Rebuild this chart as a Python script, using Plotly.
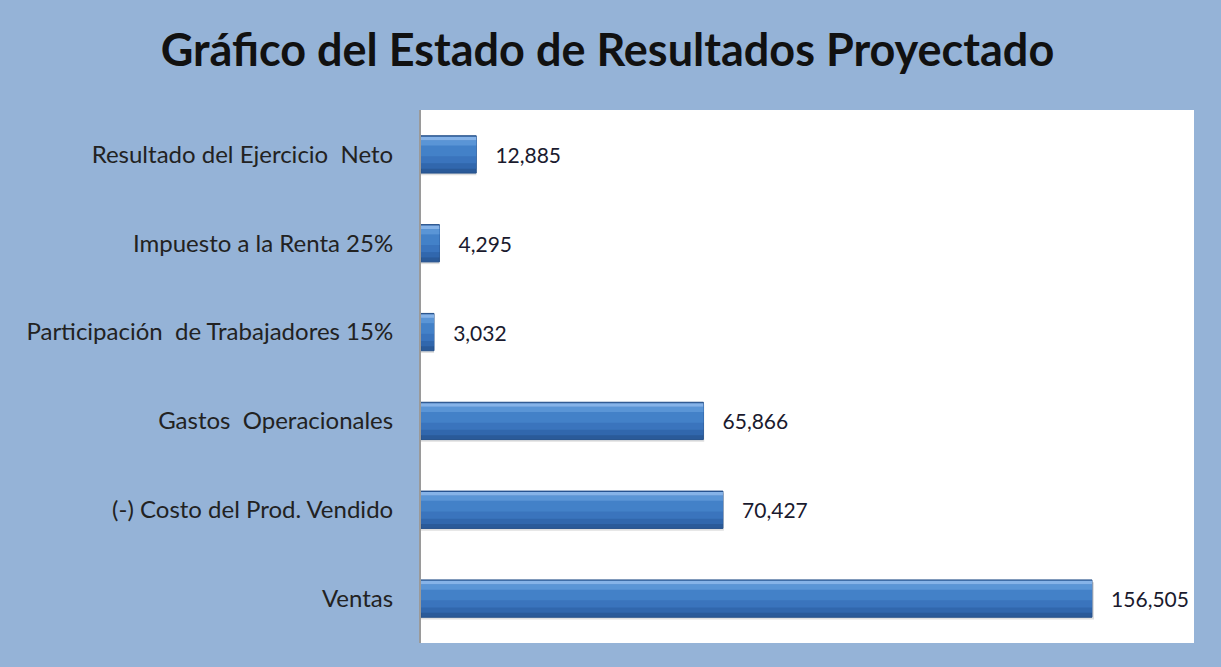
import plotly.graph_objects as go

categories = ["Ventas", "(-) Costo del Prod. Vendido", "Gastos  Operacionales",
              "Participación  de Trabajadores 15%", "Impuesto a la Renta 25%",
              "Resultado del Ejercicio  Neto"]
values = [156505, 70427, 65866, 3032, 4295, 12885]
labels = [f"{v:,}" for v in values]

BG = "#95B3D7"
FONT = "Lato, 'Open Sans', sans-serif"

# gradient bands (offset, width, colour) for a bevelled bar look
bands = [
    (-0.21, 0.42, "#2A5A99"),
    (-0.16, 0.35, "#3167AD"),
    (-0.10, 0.27, "#3A74BD"),
    (-0.02, 0.17, "#4381C8"),
    (0.10, 0.06, "#5A95D6"),
    (0.16, 0.04, "#86B3E8"),
]

fig = go.Figure()
# shadow
fig.add_trace(go.Bar(y=categories, x=[v * 1.003 for v in values], orientation="h",
                     width=0.42, offset=-0.235,
                     marker=dict(color="rgba(110,110,110,0.22)", line_width=0),
                     hoverinfo="skip", showlegend=False))
for i, (off, w, col) in enumerate(bands):
    if i == 0:
        kw = dict(text=["   " + t for t in labels], textposition="outside",
                  cliponaxis=False,
                  textfont=dict(family=FONT, size=21, color="#1a1a2e"),
                  marker=dict(color=col, line=dict(color="#25508A", width=1)))
    else:
        kw = dict(marker=dict(color=col, line_width=0), hoverinfo="skip")
    fig.add_trace(go.Bar(y=categories, x=values, orientation="h", width=w, offset=off,
                         showlegend=False, **kw))

fig.update_layout(
    width=1221, height=667,
    paper_bgcolor=BG, plot_bgcolor="white",
    barmode="overlay",
    margin=dict(l=421, r=27, t=110, b=24),
    title=dict(text="<b>Gráfico del Estado de Resultados Proyectado</b>",
               x=0.4975, xanchor="center", y=0.925, yanchor="middle",
               font=dict(family=FONT, size=45, color="#111111")),
    xaxis=dict(range=[0, 180300], visible=False, showgrid=False),
    yaxis=dict(showline=True, linecolor="#9a9a9a", linewidth=2, ticks="",
               ticklabelstandoff=21,
               tickfont=dict(family=FONT, size=24, color="#222222"),
               categoryorder="array", categoryarray=categories),
)

fig.write_html("out.html", config={"displayModeBar": False},
               post_script="document.body.style.margin='0';")
